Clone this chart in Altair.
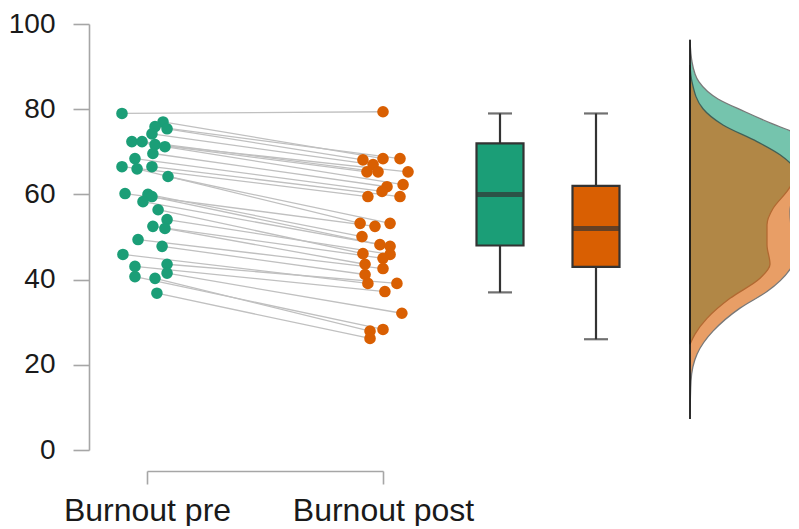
import altair as alt
import pandas as pd

# ---------------- data ----------------
groups = ["Burnout pre", "Burnout post"]
colors = ["#1b9e77", "#d95f02"]

# paired scores (sorted, paired by rank) and horizontal jitter (fraction of pre-post spacing)
pre_values = [79.0, 77.0, 75.9, 75.4, 74.2, 72.4, 72.4, 71.7, 71.2, 69.6, 68.4, 66.5,
              66.5, 66.0, 64.2, 60.2, 60.0, 59.5, 58.3, 56.4, 54.1, 52.5, 52.0, 49.4,
              47.8, 45.9, 43.6, 43.1, 41.5, 40.7, 40.3, 36.8]
pre_jitter = [-0.106, 0.068, 0.034, 0.085, 0.021, -0.064, -0.021, 0.034, 0.076, 0.025,
              -0.051, -0.106, 0.021, -0.042, 0.089, -0.093, 0.004, 0.021, -0.017, 0.047,
              0.085, 0.025, 0.076, -0.038, 0.064, -0.102, 0.085, -0.051, 0.085, -0.051,
              0.034, 0.042]
post_values = [79.4, 68.4, 68.4, 68.1, 67.0, 65.3, 65.3, 65.3, 62.3, 61.8, 60.7, 59.5,
               59.5, 53.2, 53.2, 52.5, 50.1, 48.2, 47.8, 46.1, 45.9, 45.0, 43.6, 42.6,
               41.2, 39.1, 39.1, 37.2, 32.1, 28.3, 27.9, 26.2]
post_jitter = [0.0, 0.0, 0.072, -0.085, -0.042, -0.068, -0.021, 0.106, 0.085, 0.017,
               -0.004, -0.064, 0.072, -0.097, 0.030, -0.034, -0.089, -0.013, 0.030, -0.085,
               0.030, 0.0, -0.076, 0.0, -0.076, -0.064, 0.059, 0.008, 0.080, 0.0,
               -0.055, -0.055]

# box-plot summaries
box_min = [37, 26]
box_q1 = [48, 43]
box_median = [60, 52]
box_q3 = [72, 62]
box_max = [79, 79]

# half-violin density outlines (score, relative density)
dens_pre_score = [96.3, 91.1, 86.4, 82.4, 79.4, 76.6, 74.7, 72.0, 69.5, 67.0, 64.6, 60.7,
                  56.7, 52.9, 48.2, 43.6, 40.3, 35.6, 30.9, 27.2, 24.8]
dens_pre = [0, 2, 9, 28, 55, 82, 102, 115, 119, 116, 108, 97,
            83, 77, 77, 80, 70, 40, 17, 5, 0]
dens_post_score = [90.4, 86.4, 80.1, 76.3, 72.4, 69.3, 66.0, 64.6, 61.4, 56.0, 51.3, 47.3,
                   43.6, 37.2, 33.3, 27.9, 22.5, 16.2, 7.3]
dens_post = [0, 2, 13, 33, 67, 90, 105, 108, 105, 100, 102, 107,
             103, 77, 50, 23, 7, 1, 0]

# ---------------- tables ----------------
pairs = pd.DataFrame({
    "pre": pre_values, "post": post_values,
    "pre_x": [0 + j for j in pre_jitter],
    "post_x": [1 + j for j in post_jitter],
})
points = pd.DataFrame({
    "group": [groups[0]] * len(pre_values) + [groups[1]] * len(post_values),
    "score": pre_values + post_values,
    "x": list(pairs["pre_x"]) + list(pairs["post_x"]),
})
boxes = pd.DataFrame({
    "group": groups, "pos": [0, 1],
    "min": box_min, "q1": box_q1, "median": box_median, "q3": box_q3, "max": box_max,
})
dens = pd.DataFrame({
    "group": [groups[0]] * len(dens_pre) + [groups[1]] * len(dens_post),
    "score": dens_pre_score + dens_post_score,
    "density": dens_pre + dens_post,
})
baseline = pd.DataFrame({"top": [max(dens_pre_score + dens_post_score)],
                         "bottom": [min(dens_pre_score + dens_post_score)],
                         "d": [0]})

FONT = "Liberation Sans"
color_scale = alt.Scale(domain=groups, range=colors)
yscale = alt.Scale(domain=[0, 100], nice=False, zero=False, padding=0)
yaxis = alt.Axis(values=[0, 20, 40, 60, 80, 100], offset=58, tickSize=16, labelPadding=18,
                 domainColor="#a6a6a6", tickColor="#a6a6a6", domainWidth=1.6, tickWidth=1.6,
                 labelFont=FONT, labelFontSize=28, labelColor="#1a1a1a", grid=False, title=None)

# --- paired points layer ---
xs_pts = alt.Scale(domain=[0, 1], range=[0, 236], nice=False, zero=False, padding=0)
xaxis = alt.Axis(values=[0, 1], offset=21, tickSize=13, labelPadding=11, labelLimit=0,
                 labelExpr="datum.value == 0 ? 'Burnout pre' : 'Burnout post'",
                 labelFlush=False, labelOverlap=False, labelBound=False,
                 domainColor="#a6a6a6", tickColor="#a6a6a6", domainWidth=1.6, tickWidth=1.6,
                 labelFont=FONT, labelFontSize=32, labelColor="#1a1a1a", grid=False, title=None)

lines = alt.Chart(pairs).mark_rule(color="#c0c0c0", strokeWidth=1.3).encode(
    x=alt.X("pre_x:Q", scale=xs_pts, axis=xaxis),
    x2="post_x:Q",
    y=alt.Y("pre:Q", scale=yscale, axis=yaxis),
    y2="post:Q",
)
dots = alt.Chart(points).mark_circle(size=135, opacity=1).encode(
    x=alt.X("x:Q", scale=xs_pts, axis=xaxis),
    y=alt.Y("score:Q", scale=yscale, axis=yaxis),
    color=alt.Color("group:N", scale=color_scale, legend=None),
)
paired = alt.layer(lines, dots)

# --- box plot layer ---
xs_box = alt.Scale(domain=[0, 1], range=[353, 449], nice=False, zero=False, padding=0)
bx = alt.X("pos:Q", scale=xs_box, axis=None)
whisk_lo = alt.Chart(boxes).mark_rule(color="#333333", strokeWidth=2.2).encode(
    x=bx, y=alt.Y("min:Q", scale=yscale, axis=yaxis), y2="q1:Q")
whisk_hi = alt.Chart(boxes).mark_rule(color="#333333", strokeWidth=2.2).encode(
    x=bx, y=alt.Y("q3:Q", scale=yscale, axis=yaxis), y2="max:Q")
cap_lo = alt.Chart(boxes).mark_tick(orient="horizontal", size=24, thickness=2.2,
                                   color="#333333").encode(
    x=bx, y=alt.Y("min:Q", scale=yscale, axis=yaxis))
cap_hi = alt.Chart(boxes).mark_tick(orient="horizontal", size=24, thickness=2.2,
                                   color="#333333").encode(
    x=bx, y=alt.Y("max:Q", scale=yscale, axis=yaxis))
box = alt.Chart(boxes).mark_bar(size=47, stroke="#333333", strokeWidth=2.2).encode(
    x=bx, y=alt.Y("q1:Q", scale=yscale, axis=yaxis), y2="q3:Q",
    color=alt.Color("group:N", scale=color_scale, legend=None))
med = alt.Chart(boxes).mark_tick(orient="horizontal", size=47, thickness=5,
                                color="#333333").encode(
    x=bx, y=alt.Y("median:Q", scale=yscale, axis=yaxis))
boxlayer = alt.layer(whisk_lo, whisk_hi, cap_lo, cap_hi, box, med)

# --- density (half violin) layer ---
xs_den = alt.Scale(domain=[0, 110], range=[543, 653], nice=False, zero=False, padding=0)
areas = alt.Chart(dens).mark_area(orient="horizontal", interpolate="monotone", opacity=0.6,
                                  stroke="#1f1f1f", strokeWidth=1.3, strokeOpacity=1,
                                  clip=True).encode(
    x=alt.X("density:Q", scale=xs_den, axis=None, stack=None),
    y=alt.Y("score:Q", scale=yscale, axis=yaxis),
    color=alt.Color("group:N", scale=color_scale, legend=None),
)
base = alt.Chart(baseline).mark_rule(color="#111111", strokeWidth=1.6).encode(
    x=alt.X("d:Q", scale=xs_den, axis=None),
    y=alt.Y("top:Q", scale=yscale, axis=yaxis), y2="bottom:Q")
denslayer = alt.layer(areas, base)

chart = alt.layer(paired, boxlayer, denslayer).resolve_scale(
    x="independent", color="shared"
).properties(
    width=643, height=426, background="white",
    padding={"left": 0, "top": 2, "right": 0, "bottom": 0},
).configure_view(strokeWidth=0).configure_axis(grid=False)

chart.save("out.html", embed_options={"renderer": "svg", "actions": False})
